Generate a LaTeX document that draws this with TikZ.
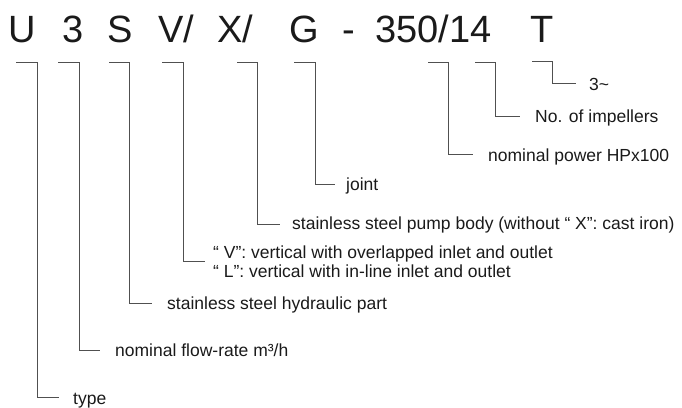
\documentclass[tikz,border=0pt]{standalone}
\usepackage{fontspec}
\setmainfont{Liberation Sans}
\definecolor{ink}{HTML}{1A1A1A}
\definecolor{wire}{HTML}{505050}
\begin{document}
\begin{tikzpicture}[x=1pt,y=-1pt,
  code/.style={anchor=base west,inner sep=0pt,text=ink,font=\fontsize{38}{40}\selectfont},
  lbl/.style={anchor=west,inner sep=0pt,text height=12.5pt,text depth=0pt,text=ink,font=\fontsize{17.5}{20}\selectfont},
  br/.style={draw=wire,line width=1pt}]
\useasboundingbox (0,0) rectangle (682,407);
% code letters
\node[code] (cU) at (8,42) {U};
\node[code] (c3) at (62,42) {3};
\node[code] (cS) at (107,42) {S};
\node[code] (cV) at (158,42) {V/};
\node[code] (cX) at (217,42) {X/};
\node[code] (cG) at (289,42) {G};
\node[code] (cD) at (342,42) {-};
\node[code] (cN) at (375,42) {350/14};
\node[code] (cT) at (530,42) {T};
% labels
\node[lbl] (tT) at (589,84) {3\textasciitilde};
\node[lbl] (tI) at (535,116) {No. of impellers};
\node[lbl] (tP) at (488,155) {nominal power HPx100};
\node[lbl] (tG) at (346,184) {joint};
\node[lbl] (tX) at (292,223) {stainless steel pump body (without “ X”: cast iron)};
\node[lbl] (tV) at (213,252) {“ V”: vertical with overlapped inlet and outlet};
\node[lbl] (tL) at (213,271) {“ L”: vertical with in-line inlet and outlet};
\node[lbl] (tS) at (167,303) {stainless steel hydraulic part};
\node[lbl] (t3) at (115,350) {nominal flow-rate m³/h};
\node[lbl] (tU) at (73,398) {type};
% bracket coordinates
\coordinate (bT) at (532,61);  \coordinate (kT) at (552,61);  \coordinate (eT) at (576,83);
\coordinate (bI) at (475,62);  \coordinate (kI) at (495,62);  \coordinate (eI) at (520,116);
\coordinate (bP) at (428,62);  \coordinate (kP) at (448,62);  \coordinate (eP) at (473,154);
\coordinate (bG) at (294,62);  \coordinate (kG) at (315,62);  \coordinate (eG) at (335,184);
\coordinate (bX) at (237,62);  \coordinate (kX) at (257,62);  \coordinate (eX) at (280,224);
\coordinate (bV) at (162,62);  \coordinate (kV) at (183,62);  \coordinate (eV) at (205,261);
\coordinate (bS) at (109,62);  \coordinate (kS) at (129,62);  \coordinate (eS) at (152,303);
\coordinate (b3) at (58,62);   \coordinate (k3) at (79,62);   \coordinate (e3) at (100,350);
\coordinate (bU) at (16,62);   \coordinate (kU) at (37,62);   \coordinate (eU) at (59,397);
\foreach \n in {T,I,P,G,X,V,S,3,U}{
  \draw[br] (b\n) -- (k\n) |- (e\n);
}
\end{tikzpicture}
\end{document}
